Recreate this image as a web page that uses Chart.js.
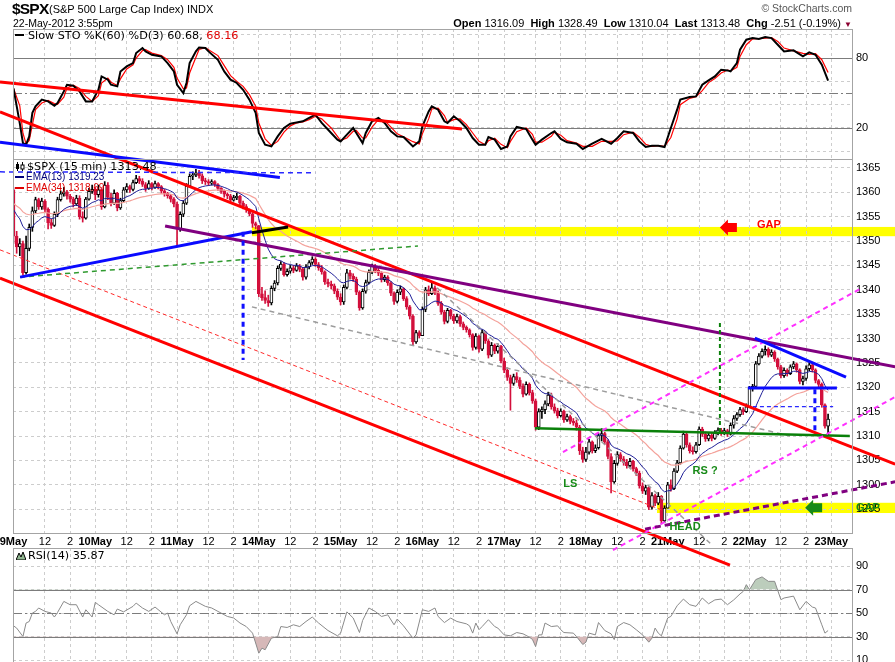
<!DOCTYPE html>
<html>
<head>
<meta charset="utf-8">
<title>$SPX 15 min</title>
<script src="https://cdn.jsdelivr.net/npm/chart.js@4.4.1/dist/chart.umd.min.js"></script>
<style>
  body { margin: 0; background: #fff; }
  #wrap { position: relative; width: 895px; height: 662px; overflow: hidden; background: #fff; }
  #wrap canvas { position: absolute; left: 0; top: 0; }
  .txt { position: absolute; white-space: nowrap; font-family: "Liberation Sans", Arial, sans-serif; color: #000; line-height: 12px; }
  .leg { font-family: "DejaVu Sans", Verdana, sans-serif; font-size: 11.2px; }
  .dash { position: absolute; height: 2px; width: 9px; }
</style>
</head>
<body>
<div id="wrap">
  <canvas id="stoChart" width="895" height="662"></canvas>
  <canvas id="rsiChart" width="895" height="662"></canvas>
  <canvas id="priceChart" width="895" height="662"></canvas>

  <!-- header -->
  <div class="txt" style="left:12px;top:1px;font-size:15.5px;font-weight:bold;letter-spacing:-0.8px;line-height:15px">$SPX</div>
  <div class="txt" style="left:49px;top:3px;font-size:11px">(S&amp;P 500 Large Cap Index) INDX</div>
  <div class="txt" style="left:13px;top:17px;font-size:10.5px">22-May-2012 3:55pm</div>
  <div class="txt" style="right:43px;top:2px;font-size:10.5px;color:#555">&copy; StockCharts.com</div>
  <div class="txt" style="right:43px;top:17px;font-size:11px"><b>Open</b> 1316.09&nbsp; <b>High</b> 1328.49&nbsp; <b>Low</b> 1310.04&nbsp; <b>Last</b> 1313.48&nbsp; <b>Chg</b> -2.51 (-0.19%) <span style="color:#8b0030;font-size:8px">&#9660;</span></div>

  <!-- panel legends -->
  <div class="dash" style="left:15px;top:34px;background:#000"></div>
  <div class="txt leg" style="left:28px;top:30px">Slow STO %K(60) %D(3) 60.68, <span style="color:#e00000">68.16</span></div>

  <svg style="position:absolute;left:16px;top:162px" width="9" height="9">
    <rect x="1" y="0" width="1" height="9" fill="#000"/><rect x="0" y="2" width="3" height="5" fill="#000"/>
    <rect x="6" y="0" width="1" height="9" fill="#000"/><rect x="5" y="3" width="3" height="4" fill="#fff" stroke="#000" stroke-width="1"/>
  </svg>
  <div class="txt leg" style="left:27px;top:161px">$SPX (15 min) 1313.48</div>
  <div class="dash" style="left:15px;top:176px;background:#00007a"></div>
  <div class="txt" style="left:26px;top:171px;font-size:10px;color:#00007a">EMA(13) 1319.23</div>
  <div class="dash" style="left:15px;top:187px;background:#e00000"></div>
  <div class="txt" style="left:26px;top:182px;font-size:10px;color:#e00000">EMA(34) 1318.69</div>

  <svg style="position:absolute;left:16px;top:551px" width="10" height="9">
    <polygon points="0,9 3,2 5,6 7,1 10,9" fill="#8fb58f" stroke="#000" stroke-width="1"/>
  </svg>
  <div class="txt leg" style="left:28px;top:550px">RSI(14) 35.87</div>
</div>

<script>
// ---- time axis -------------------------------------------------------------
const DAY_LABELS = ['9May', '10May', '11May', '14May', '15May', '16May', '17May', '18May', '21May', '22May', '23May'];
const BARS_PER_DAY = 26;                      // 15 min bars, 9:30 - 16:00
const INTRADAY_TICKS = [[10, '12'], [18, '2']];

// ---- 15 min candles, one row per session ------------------------------------
const FIRST_OPEN = 1360.5;
const closes = [
  1351, 1348.8, 1349.5, 1343.5, 1348.5, 1352.8, 1356.2, 1358.5, 1357, 1358.2, 1356.5, 1353.8, 1353.2, 1355.5, 1358.5, 1359.7, 1360.1, 1359.2, 1358.6, 1357.6, 1358.8, 1355, 1354.7, 1358.6, 1360.2, 1360.6,
  1359.5, 1360.5, 1357, 1361.5, 1359, 1357.8, 1359.8, 1356.8, 1358.3, 1360.5, 1361.2, 1360.6, 1362, 1362.8, 1362.3, 1361.6, 1360.8, 1361.8, 1361, 1361.8, 1361.2, 1360.3, 1359.8, 1359.3, 1358.6, 1357.6,
  1352.5, 1355.5, 1357.8, 1361.3, 1363.3, 1363.6, 1364, 1363.4, 1362.4, 1362.2, 1361.9, 1362.2, 1361.6, 1360.8, 1360.2, 1359.6, 1359.3, 1358.4, 1358.9, 1359.2, 1357.8, 1357.1, 1356.4, 1355.6, 1353.6, 1353.2,
  1339.2, 1338.4, 1337.8, 1337.3, 1340.3, 1341.4, 1344.4, 1345.3, 1343.1, 1343.8, 1344.5, 1344, 1344.9, 1344.2, 1342.6, 1344.7, 1345.6, 1346.3, 1345.2, 1344.5, 1343.7, 1341.6, 1341.2, 1340.8, 1339.7, 1338.5,
  1337.5, 1340.5, 1343.5, 1342.8, 1342.2, 1339.5, 1336.3, 1339.7, 1341.5, 1343.6, 1344.8, 1344, 1343.4, 1342.1, 1342.6, 1341.4, 1339.3, 1337.6, 1339.5, 1340.2, 1338.2, 1336.5, 1334.6, 1329.3, 1331.2, 1330.6,
  1336, 1340, 1339.2, 1340.4, 1339.4, 1337.2, 1335.4, 1333.5, 1335.8, 1334.6, 1333.6, 1334.5, 1333, 1332.3, 1331.8, 1330.8, 1328.2, 1330.5, 1327.8, 1331.2, 1329.5, 1326.6, 1328.6, 1327.4, 1328.4, 1325.4,
  1323.5, 1322, 1320.8, 1322.2, 1321.5, 1320.2, 1318.6, 1320.6, 1318.9, 1317.2, 1311.8, 1315, 1315.4, 1316.6, 1318.4, 1316, 1315.2, 1314.2, 1315.1, 1313.3, 1314, 1313, 1312.7, 1311.8, 1307, 1305.2,
  1306.7, 1308.8, 1307, 1307.6, 1310.1, 1310.5, 1308.8, 1305.8, 1300.6, 1304.4, 1306.2, 1305.3, 1304.6, 1303.9, 1304.8, 1303.3, 1302.4, 1299.8, 1298.7, 1299.4, 1295.4, 1297.8, 1296.2, 1297.6, 1292.6, 1295.2,
  1300, 1299.2, 1302.8, 1304.5, 1307.5, 1310.4, 1308.2, 1307, 1306.8, 1308.2, 1311.4, 1310.4, 1309.4, 1310.2, 1309.5, 1310.6, 1311.2, 1310.6, 1311.1, 1310.4, 1312.2, 1313.6, 1314.4, 1315.4, 1315, 1316,
  1319.8, 1320.2, 1324.8, 1326.4, 1327.4, 1327.8, 1326.6, 1327.2, 1325.8, 1324.2, 1322.4, 1323.5, 1322.8, 1324.2, 1324.8, 1323.6, 1321.2, 1321.8, 1323.8, 1324.6, 1323.6, 1321.4, 1320.6, 1316.4, 1312, 1313.48
];
const highs = [
  1361, 1352, 1350.5, 1350, 1351, 1353.5, 1357, 1359, 1358.8, 1358.8, 1358.5, 1356.8, 1354.5, 1356, 1359, 1360.3, 1361, 1360.4, 1359.6, 1359, 1359.4, 1359.3, 1356, 1359, 1360.8, 1361.5,
  1361, 1361.5, 1360.8, 1362.2, 1362, 1359.8, 1360.5, 1360, 1358.8, 1361, 1361.8, 1361.5, 1362.5, 1363.5, 1363.3, 1362.8, 1362, 1362.4, 1362, 1362.3, 1362, 1361.4, 1360.6, 1360, 1359.6, 1358.9,
  1358, 1356, 1358.3, 1361.8, 1363.8, 1364.2, 1364.7, 1364.5, 1363.8, 1362.9, 1362.6, 1362.6, 1362.4, 1361.8, 1361, 1360.5, 1359.9, 1359.6, 1359.4, 1359.8, 1359.4, 1358.2, 1357.5, 1356.6, 1355.8, 1353.9,
  1352.5, 1340.5, 1339.8, 1338.9, 1340.8, 1341.9, 1344.9, 1345.8, 1345.6, 1344.3, 1345, 1345, 1345.4, 1345.2, 1344.6, 1345.2, 1346, 1346.8, 1346.6, 1345.6, 1345, 1343.9, 1342.2, 1341.8, 1341.2, 1340.2,
  1339.2, 1341, 1344.2, 1344, 1343.3, 1342.6, 1339.8, 1340.2, 1342, 1344.1, 1345.3, 1345.2, 1344.4, 1343.7, 1343, 1342.9, 1341.7, 1339.6, 1340, 1340.8, 1340.4, 1338.6, 1336.8, 1334.9, 1331.7, 1331.6,
  1336.5, 1340.5, 1340.8, 1341.4, 1340.8, 1339.8, 1337.6, 1335.8, 1336.2, 1336, 1335, 1335, 1334.8, 1333.4, 1332.6, 1332, 1331, 1331, 1330.7, 1331.8, 1331.4, 1329.8, 1329.2, 1328.9, 1328.9, 1328.6,
  1326, 1324, 1322.5, 1322.7, 1323, 1322, 1320.7, 1321.1, 1320.9, 1319.4, 1317.6, 1315.6, 1316, 1317.2, 1319, 1318.8, 1316.6, 1315.7, 1315.6, 1315.3, 1314.5, 1314.3, 1313.6, 1313.3, 1312.2, 1307.7,
  1307.7, 1309.3, 1309, 1308.2, 1310.6, 1311.5, 1310.8, 1309.2, 1306.4, 1305, 1306.8, 1306.6, 1305.8, 1305.2, 1305.4, 1305, 1303.6, 1302.8, 1300.4, 1299.9, 1299.6, 1298.4, 1298.1, 1298.4, 1297.8, 1295.7,
  1300.5, 1301, 1303.3, 1305, 1308, 1311, 1310.6, 1308.6, 1307.8, 1308.7, 1311.9, 1311.8, 1310.8, 1310.7, 1310.6, 1311.1, 1311.7, 1311.6, 1311.6, 1311.4, 1312.7, 1314.2, 1314.8, 1315.9, 1315.8, 1316.6,
  1320.2, 1320.6, 1325.3, 1326.9, 1327.9, 1328.49, 1328.1, 1327.7, 1327.5, 1326, 1324.5, 1324, 1323.8, 1324.6, 1325.3, 1325, 1323.8, 1322.3, 1324.4, 1325.1, 1324.8, 1323.8, 1321.6, 1320.9, 1316.6, 1314.5
];
const lows = [
  1349.5, 1347.5, 1347, 1343, 1343.2, 1348, 1352, 1355.8, 1356.5, 1356.5, 1356, 1352.5, 1352.6, 1353, 1355, 1358.2, 1359.2, 1358.6, 1358, 1357, 1357.3, 1354.5, 1353.9, 1354.5, 1358.4, 1359.8,
  1358.5, 1359, 1356.5, 1356.8, 1358.5, 1357.2, 1357.5, 1356.2, 1356.5, 1358, 1360, 1360, 1360.3, 1361.8, 1361.8, 1361.2, 1360.2, 1360.6, 1360.5, 1360.8, 1360.7, 1359.8, 1359.2, 1358.8, 1358, 1357,
  1348.8, 1352, 1355, 1357.5, 1361, 1362.6, 1363.2, 1362.9, 1361.8, 1361.6, 1361.4, 1361.5, 1361.2, 1360.4, 1359.8, 1359, 1358.7, 1358, 1358.2, 1358.5, 1357.3, 1356.6, 1355.9, 1355.2, 1352.8, 1352.5,
  1338.6, 1337.8, 1337.2, 1336.6, 1336.9, 1339.8, 1341, 1344, 1342.8, 1342.8, 1343.4, 1343.5, 1343.8, 1343.7, 1342, 1342.2, 1344.3, 1345.2, 1344.8, 1344, 1343.2, 1341.1, 1340.6, 1340.2, 1339.2, 1338,
  1336.9, 1337, 1340.2, 1342.2, 1341.7, 1339, 1335.8, 1336, 1339.3, 1341.2, 1343.3, 1343.5, 1342.9, 1341.6, 1341.7, 1340.9, 1338.8, 1337, 1337.3, 1339, 1337.8, 1336, 1334, 1328.7, 1329, 1330.1,
  1331, 1335.5, 1338.8, 1339, 1339, 1336.8, 1335, 1333, 1333.2, 1334, 1333.1, 1333.2, 1332.5, 1331.8, 1331.3, 1330.3, 1327.6, 1327.8, 1327.2, 1327.5, 1329, 1326, 1326.3, 1326.9, 1327, 1325,
  1323, 1321.4, 1315.3, 1320.4, 1321, 1319.7, 1318, 1318.4, 1318.4, 1316.7, 1311.2, 1311.3, 1313.6, 1314.6, 1316.2, 1315.5, 1314.7, 1313.7, 1313.9, 1312.8, 1313, 1312.5, 1312.2, 1311.2, 1306.2, 1304.6,
  1304.8, 1306.3, 1306.5, 1306.6, 1307.3, 1309, 1308.3, 1305.3, 1298.3, 1300.3, 1304, 1304.8, 1304, 1303.4, 1303.6, 1302.8, 1301.9, 1299.3, 1298.2, 1298, 1294.9, 1295, 1295.7, 1295.9, 1292.1, 1292.2,
  1295.2, 1298.7, 1299, 1302.5, 1304.2, 1307.3, 1307.7, 1306.5, 1306.3, 1306.5, 1308, 1309.9, 1308.9, 1309, 1309, 1309.3, 1310.2, 1310.1, 1310.3, 1309.9, 1310.2, 1311.6, 1313.2, 1314, 1314.4, 1314.8,
  1316, 1319.2, 1319.8, 1324.6, 1326, 1326.6, 1326.2, 1326.3, 1325.3, 1323.7, 1321.9, 1322, 1322.3, 1322.6, 1323.8, 1323.1, 1320.7, 1320.5, 1321.4, 1323.4, 1323.1, 1320.9, 1320.1, 1315.9, 1311.6, 1310.04
];
const EMA_SEED = { 13: 1357.4, 34: 1358.1 };  // averages carried in from 8 May
const priceTicks = [1295, 1300, 1305, 1310, 1315, 1320, 1325, 1330, 1335, 1340, 1345, 1350, 1355, 1360, 1365];

// ---- Slow STO %K(60), read at these bars -----------------------------------
const stoBars = [0,2,3,4,5,6,7,9,11,13,14,16,17,19,21,23,25,27,28,30,31,33,34,36,38,39,41,42,44,47,49,51,52,54,55,56,58,59,61,62,
  65,67,69,71,73,75,77,78,80,82,84,86,88,90,92,94,96,98,101,103,104,106,108,109,111,112,114,116,118,120,122,124,127,129,130,132,133,135,137,138,
  140,142,144,146,148,150,151,153,155,157,158,160,163,165,166,168,171,172,174,176,179,181,184,187,190,192,194,197,199,201,
  203,205,207,209,211,212,215,217,219,221,223,225,227,228,230,231,233,235,237,239,241,243,245,248,251,253,255,257,259];
const stoK = [54,24,7,5.7,12.8,33,38.5,44.3,42.8,39.1,41.4,51.4,57.1,56.3,51.4,42.8,42.8,52.8,64.2,61.4,57.1,55.7,68.5,72.8,75.7,84.3,88.6,85.7,82.8,81.4,
  75.7,68.5,57.1,50,58.6,75.7,85.7,89.1,88.6,85.7,78.5,68.5,61.4,58.6,52.8,44.3,32.9,15.7,5.7,4.2,12.8,20,23.7,24.8,25.7,28.6,31.4,24.3,15.7,10,
  8.5,14.3,20,15.7,7.1,15.7,25.7,28.6,24.3,17.1,12.8,12.3,4.2,8.5,21.4,34.2,38.5,35.7,25.7,24.3,30,25.7,20,11.4,5.7,5.7,12.3,10,2,4.2,
  12.8,20.9,19.1,10,5.7,10,15.7,17.1,10.6,7.7,6.5,2,6.5,10.6,6.5,11.4,17.1,15.7,8.5,3.7,4.8,4.8,3.7,20,35.7,44.3,46.6,47.1,57.1,60.8,
  64.2,70,69.4,68.5,75.7,87.1,95.7,97.1,96.3,98,97.1,91.4,85.7,86.6,81.4,84.8,82.8,74.3,60.7];
const stoTicks = [0, 10, 20, 30, 40, 50, 60, 70, 80, 90, 100];
const stoLabels = [80, 50, 20];

// ---- RSI(14), read at these bars -------------------------------------------
const rsiBars = [0,1,3,4,5,6,7,8,10,12,13,14,16,18,20,22,23,25,26,27,30,32,33,35,38,39,41,43,45,48,49,50,52,53,55,56,58,59,61,63,
  65,68,70,72,74,76,78,79,80,82,84,85,87,89,91,93,95,97,100,103,104,106,108,110,111,113,115,117,119,121,122,124,127,128,130,132,134,135,137,139,
  141,144,145,146,147,148,149,151,153,154,156,158,160,162,164,165,166,167,168,169,171,173,174,175,178,179,181,182,183,185,
  186,188,190,191,192,194,196,198,200,202,203,204,205,206,208,209,211,213,215,217,219,221,223,225,227,229,231,232,233,234,
  236,238,240,242,244,245,248,250,252,254,255,257,258,259];
const rsiVals = [39.1,37.2,30,41.5,42.8,50,51.4,54.3,51.4,50,46.6,50.5,59.9,57.1,57.1,46.6,52.8,46.6,59.1,57.1,51.4,48.5,53.4,51,55.7,58.5,54.3,51.4,55.1,48.5,
  50,42.8,32.3,40,48.5,56.2,59.9,58.5,55.7,54.3,51.4,47.1,45.8,41.5,38.5,32.9,15.8,20.1,18.7,28.6,30,38.5,37.7,40,38.5,42.8,46.6,41.5,35.1,30.6,
  32.9,51,45.8,33.4,43.7,54.3,51.4,47.1,48.5,40,44.9,39.1,28.6,31.4,52.8,51.4,54.3,47.1,41.9,45.7,42.8,40.8,39.1,32.9,41.5,35.8,38.5,44.3,38.5,37.2,
  31.4,30.6,33.4,32.3,29.5,27.5,21.5,31.4,31.4,41.5,38.5,39.1,35.8,33.4,32.9,30,23.2,25.2,32.9,31.4,41.9,35.1,32.3,27.4,38.5,41.9,40,35.8,31.4,25.2,
  28.6,37.2,32.9,30.6,45.8,47.1,56.2,61.9,57.1,55.7,62.8,57.9,61.2,61.9,57.1,61.2,66.3,68.4,74.2,69.9,78.5,80.8,77,77,61.4,62.8,64.4,52.8,59.9,55.1,
  54.3,40,32.9,35.1];
const rsiTicks = [10, 20, 30, 40, 50, 60, 70, 80, 90, 100];
const rsiLabels = [90, 70, 50, 30, 10];

// ---- hand drawn annotations, in (bar, price) units --------------------------
const trendLines = [
  [-4.3, 1376.5, 280.3, 1304.25, 'red'],
  [-4.3, 1342.4, 227.8, 1283.5, 'red'],
  [-4.3, 1348.2, 206.2, 1294.8, 'redDash'],
  [-4.3, 1370.3, 84.7, 1363.05, 'blue'],
  [-4.3, 1364.2, 95.9, 1364.0, 'blueDash'],
  [2.1, 1342.6, 128.6, 1349.0, 'greenDash'],
  [2.1, 1342.6, 75.8, 1351.9, 'blue'],
  [75.8, 1351.7, 87.3, 1352.9, 'black'],
  [48.2, 1353.1, 280.3, 1324.2, 'purple'],
  [73.0, 1351.9, 73.0, 1325.6, 'blueThickDash'],
  [75.8, 1336.5, 246.9, 1310.0, 'greyDash'],
  [134.7, 1340.4, 221.5, 1288.0, 'greyDash'],
  [165.8, 1311.6, 265.9, 1310.0, 'green'],
  [224.6, 1333.2, 224.6, 1310.8, 'greenVDash'],
  [174.7, 1306.7, 269.2, 1340.2, 'magenta'],
  [190.6, 1286.6, 280.3, 1318.0, 'magenta'],
  [200.8, 1290.9, 280.3, 1300.6, 'purpleDash'],
  [235.7, 1330.1, 264.7, 1322.1, 'blue'],
  [233.5, 1319.85, 261.8, 1319.85, 'blue'],
  [235.1, 1316.05, 260.6, 1316.05, 'blueThinDash'],
  [254.8, 1319.6, 254.8, 1311.2, 'blueThickDash']
];
const gapBands = [[75.8, 1351.0, 1352.9], [204.6, 1294.2, 1296.3]];   // start bar, low, high
const gapArrows = [[224.6, 1352.8, 'red'], [251.7, 1295.3, 'green']];  // tip bar, price
const noteLabels = [
  ['LS', 177, 1300.15, 'green'], ['RS ?', 219.9, 1302.8, 'green'], ['HEAD', 213.5, 1291.3, 'green'],
  ['GAP', 240.2, 1353.3, 'red'], ['GAP', 271.7, 1295.2, 'green']
];
const stoTrendLines = [[-4.3, 59.4, 142.6, 19.1, 'red']];

// ---- styles -----------------------------------------------------------------
const FONT = '"Liberation Sans", Arial, sans-serif';
const GRID = '#cdcdcd';
const FRAME = '#a4a4a4';
const LEVEL = '#7c7c7c';
const DOWN = '#d3103c';
const NOTE_COLORS = { red: '#ff0000', green: '#178a17' };
const LINE_STYLES = {
  red: { color: '#ff0000', width: 3, dash: [] },
  redDash: { color: '#ff2a2a', width: 1, dash: [4, 3] },
  blue: { color: '#0a0aff', width: 3, dash: [] },
  blueDash: { color: '#2a2aff', width: 1.5, dash: [5, 4] },
  blueThinDash: { color: '#2a2aff', width: 1.2, dash: [4, 3] },
  blueThickDash: { color: '#1010ff', width: 3, dash: [5, 4] },
  black: { color: '#000000', width: 3, dash: [] },
  greenDash: { color: '#2f9a2f', width: 1.5, dash: [5, 4] },
  green: { color: '#0a800a', width: 2.5, dash: [] },
  greenVDash: { color: '#0a800a', width: 2, dash: [4, 3] },
  purple: { color: '#800080', width: 3, dash: [] },
  purpleDash: { color: '#800080', width: 3, dash: [6, 4] },
  greyDash: { color: '#9c9c9c', width: 1.5, dash: [5, 4] },
  magenta: { color: '#ff30ff', width: 2, dash: [5, 4] }
};

// plot window in bar units
const X_MIN = -0.16, X_MAX = 266.6;

const labelByBar = new Map();
const dayBars = new Set();
DAY_LABELS.forEach((lab, d) => {
  const start = d * BARS_PER_DAY;
  labelByBar.set(start, lab);
  dayBars.add(start);
  INTRADAY_TICKS.forEach(([off, txt]) => {
    if (start + off < X_MAX) labelByBar.set(start + off, txt);
  });
});
const xTickValues = [...labelByBar.keys()].sort((a, b) => a - b);

function xAxis(showLabels) {
  return {
    type: 'linear', min: X_MIN, max: X_MAX, offset: false,
    grid: { color: GRID, drawTicks: false, offset: false },
    border: { display: false, dash: [3, 3] },
    afterBuildTicks: ax => { ax.ticks = xTickValues.map(v => ({ value: v })); },
    afterFit: ax => { ax.height = showLabels ? 15 : 0; ax.paddingLeft = 0; ax.paddingRight = 0; },
    ticks: {
      display: showLabels, autoSkip: false, maxRotation: 0, minRotation: 0, padding: 2, color: '#000',
      font: c => ({ family: FONT, size: 11, weight: c.tick && dayBars.has(c.tick.value) ? 'bold' : 'normal' }),
      callback: v => labelByBar.get(v) || ''
    }
  };
}

function yAxis(min, max, tickValues, labelled) {
  return {
    type: 'linear', position: 'right', min, max,
    grid: { color: GRID, drawTicks: false },
    border: { display: false, dash: [3, 3] },
    afterBuildTicks: ax => { ax.ticks = tickValues.map(v => ({ value: v })); },
    afterFit: ax => { ax.width = 43; ax.paddingTop = 0; ax.paddingBottom = 0; },
    ticks: { padding: 4, color: '#000', font: { family: FONT, size: 11 },
      callback: v => (labelled.includes(v) ? String(v) : '') }
  };
}

function strokeLine(ctx, xs, ys, [i1, v1, i2, v2, key]) {
  const st = LINE_STYLES[key];
  ctx.save();
  ctx.strokeStyle = st.color;
  ctx.lineWidth = st.width;
  ctx.setLineDash(st.dash);
  ctx.beginPath();
  ctx.moveTo(xs.getPixelForValue(i1), ys.getPixelForValue(v1));
  ctx.lineTo(xs.getPixelForValue(i2), ys.getPixelForValue(v2));
  ctx.stroke();
  ctx.restore();
}

// grey box round each panel
const frame = {
  id: 'frame',
  afterDraw(chart) {
    const { ctx, chartArea: a } = chart;
    ctx.save();
    ctx.strokeStyle = FRAME;
    ctx.lineWidth = 1;
    ctx.strokeRect(Math.floor(a.left) + 0.5, Math.floor(a.top) + 0.5, Math.round(a.right - a.left), Math.round(a.bottom - a.top));
    ctx.restore();
  }
};

// overbought / oversold lines, middle one dash-dot
const levels = {
  id: 'levels',
  beforeDatasetsDraw(chart, args, opts) {
    const { ctx, chartArea: a, scales: { y } } = chart;
    (opts.values || []).forEach(v => {
      const py = Math.round(y.getPixelForValue(v)) + 0.5;
      ctx.save();
      ctx.strokeStyle = LEVEL;
      ctx.lineWidth = 1;
      ctx.setLineDash(v === opts.mid ? [9, 3, 2, 3] : []);
      ctx.beginPath();
      ctx.moveTo(a.left, py);
      ctx.lineTo(a.right, py);
      ctx.stroke();
      ctx.restore();
    });
  }
};

const stoTrend = {
  id: 'stoTrend',
  afterDatasetsDraw(chart) {
    const { ctx, scales: { x, y } } = chart;
    stoTrendLines.forEach(l => strokeLine(ctx, x, y, l));
  }
};

const annotations = {
  id: 'annotations',
  beforeDraw(chart) {
    const { ctx, scales: { x, y } } = chart;
    ctx.save();
    ctx.fillStyle = '#ffff00';
    gapBands.forEach(([from, lo, hi]) => {
      const x0 = x.getPixelForValue(from);
      const y0 = y.getPixelForValue(hi);
      ctx.fillRect(x0, y0, chart.width - x0, y.getPixelForValue(lo) - y0);
    });
    ctx.restore();
  },
  afterDatasetsDraw(chart) {
    const { ctx, scales: { x, y } } = chart;
    trendLines.forEach(l => strokeLine(ctx, x, y, l));

    gapArrows.forEach(([bar, price, col]) => {
      const tx = x.getPixelForValue(bar), my = y.getPixelForValue(price);
      ctx.save();
      ctx.fillStyle = NOTE_COLORS[col];
      ctx.beginPath();
      ctx.moveTo(tx, my);
      ctx.lineTo(tx + 8, my - 8);
      ctx.lineTo(tx + 8, my - 4.5);
      ctx.lineTo(tx + 17, my - 4.5);
      ctx.lineTo(tx + 17, my + 4.5);
      ctx.lineTo(tx + 8, my + 4.5);
      ctx.lineTo(tx + 8, my + 8);
      ctx.closePath();
      ctx.fill();
      ctx.restore();
    });

    ctx.save();
    ctx.font = 'bold 11px ' + FONT;
    ctx.textAlign = 'center';
    ctx.textBaseline = 'middle';
    noteLabels.forEach(([txt, bar, price, col]) => {
      ctx.fillStyle = NOTE_COLORS[col];
      ctx.fillText(txt, x.getPixelForValue(bar), y.getPixelForValue(price));
    });
    ctx.restore();
  }
};

function ema(values, period, seed) {
  const k = 2 / (period + 1);
  let e = seed;
  return values.map(v => (e += k * (v - e)));
}

function baseOptions(padding, scales, pluginOpts) {
  return {
    responsive: false, animation: false, events: [],
    layout: { padding },
    scales,
    plugins: Object.assign({ legend: { display: false }, tooltip: { enabled: false } }, pluginOpts || {})
  };
}

// ---- price panel --------------------------------------------------------------
const opens = closes.map((c, i) => (i === 0 ? FIRST_OPEN : closes[i - 1]));
const isUp = closes.map((c, i) => c >= opens[i]);
const edge = i => (isUp[i] ? '#000000' : DOWN);
const ema13 = ema(closes, 13, EMA_SEED[13]);
const ema34 = ema(closes, 34, EMA_SEED[34]);

new Chart(document.getElementById('priceChart'), {
  type: 'bar',
  data: {
    datasets: [
      {
        label: 'range',
        data: closes.map((c, i) => ({ x: i, y: [Math.min(lows[i], opens[i], c), Math.max(highs[i], opens[i], c)] })),
        backgroundColor: c => edge(c.dataIndex),
        barThickness: 1, grouped: false, order: 3
      },
      {
        label: 'body',
        data: closes.map((c, i) => ({ x: i, y: [opens[i], c] })),
        backgroundColor: c => (isUp[c.dataIndex] ? '#ffffff' : DOWN),
        borderColor: c => edge(c.dataIndex),
        borderWidth: 1, borderSkipped: false,
        barThickness: 3, grouped: false, order: 2
      },
      {
        type: 'line', label: 'EMA(34)',
        data: ema34.map((v, i) => ({ x: i, y: v })),
        borderColor: '#f4a29b', borderWidth: 1.2, pointRadius: 0, order: 1
      },
      {
        type: 'line', label: 'EMA(13)',
        data: ema13.map((v, i) => ({ x: i, y: v })),
        borderColor: '#1f1f98', borderWidth: 1, pointRadius: 0, order: 0
      }
    ]
  },
  options: baseOptions({ left: 13, top: 159, right: 0, bottom: 114 }, {
    x: xAxis(true),
    y: yAxis(1290.1, 1366.84, priceTicks, priceTicks)
  }),
  plugins: [annotations, frame]
});

// ---- slow stochastic panel ------------------------------------------------
// %D(3) is the 3 bar average of %K; with readings ~2 bars apart that is the mean of two readings
const stoD = stoK.map((v, j) => (j === 0 ? v : (v + stoK[j - 1]) / 2));

new Chart(document.getElementById('stoChart'), {
  type: 'line',
  data: {
    datasets: [
      { label: '%D', data: stoBars.map((b, j) => ({ x: b, y: stoD[j] })), borderColor: '#ff0000', borderWidth: 1.2, pointRadius: 0, order: 2 },
      { label: '%K', data: stoBars.map((b, j) => ({ x: b, y: stoK[j] })), borderColor: '#000000', borderWidth: 2, pointRadius: 0, order: 1 }
    ]
  },
  options: baseOptions({ left: 13, top: 29, right: 0, bottom: 503 }, {
    x: xAxis(false),
    y: yAxis(-6.6, 104.9, stoTicks, stoLabels)
  }, { levels: { values: stoLabels, mid: 50 } }),
  plugins: [levels, stoTrend, frame]
});

// ---- RSI panel ----------------------------------------------------------------
const rsiPts = rsiBars.map((b, j) => ({ x: b, y: rsiVals[j] }));

new Chart(document.getElementById('rsiChart'), {
  type: 'line',
  data: {
    datasets: [
      {
        label: 'RSI(14)', data: rsiPts, borderColor: '#8a8a8a', borderWidth: 1, pointRadius: 0,
        fill: { target: { value: 70 }, above: '#bccdbc', below: 'rgba(0,0,0,0)' }
      },
      {
        label: 'oversold', data: rsiPts, borderColor: 'rgba(0,0,0,0)', borderWidth: 0, pointRadius: 0,
        fill: { target: { value: 30 }, above: 'rgba(0,0,0,0)', below: '#d6b8b8' }
      }
    ]
  },
  options: baseOptions({ left: 13, top: 548, right: 0, bottom: 0 }, {
    x: xAxis(false),
    y: yAxis(8.3, 105.4, rsiTicks, rsiLabels)
  }, { levels: { values: [70, 50, 30], mid: 50 } }),
  plugins: [levels, frame]
});
</script>
</body>
</html>
